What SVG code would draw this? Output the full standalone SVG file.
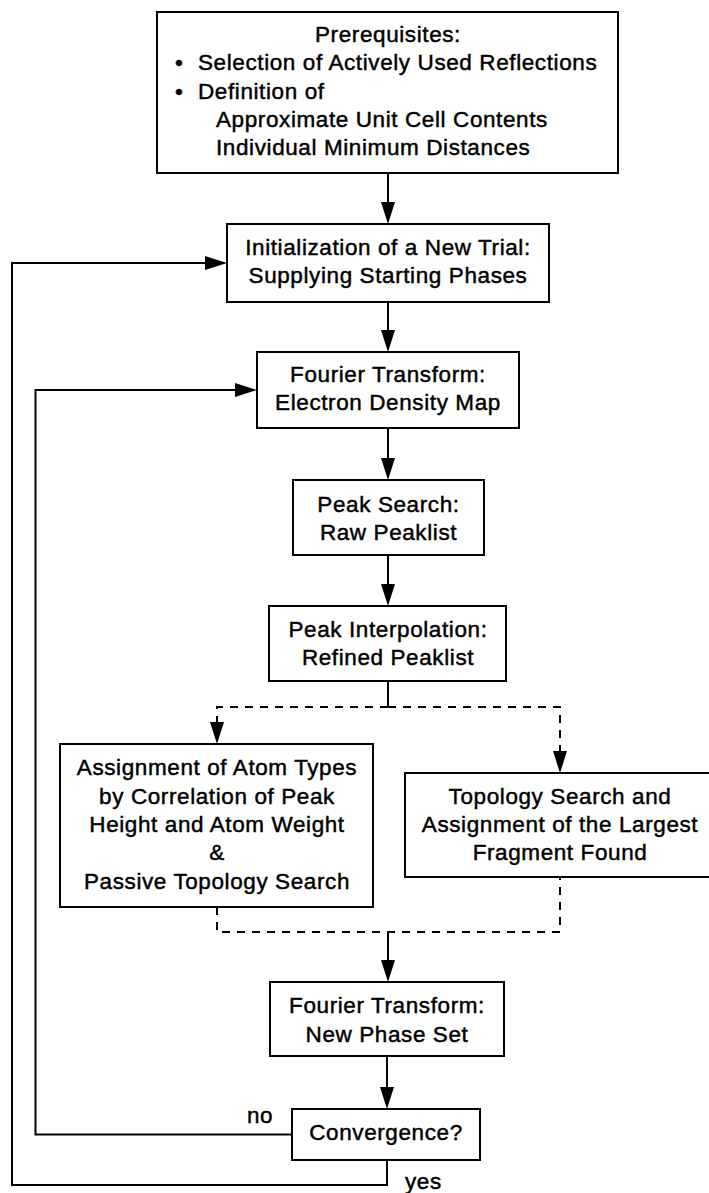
<svg xmlns="http://www.w3.org/2000/svg" width="709" height="1193" viewBox="0 0 709 1193">
<style>
  .box { fill: #fff; stroke: #000; stroke-width: 2; }
  .t { font-family: "Liberation Sans", Arial, Helvetica, sans-serif; font-size: 22.5px; letter-spacing: 0.6px; fill: #000; stroke: #000; stroke-width: 0.45px; }
  .c { text-anchor: middle; }
  .ln { fill: none; stroke: #000; stroke-width: 2; }
  .dash { stroke-dasharray: 8 7; }
</style>
<defs>
  <marker id="ah" markerUnits="userSpaceOnUse" markerWidth="22" markerHeight="14" viewBox="0 0 22 14" refX="19" refY="7" orient="auto">
    <path d="M0,0 L22,7 L0,14 z" fill="#000"/>
  </marker>
</defs>
<rect width="709" height="1193" fill="#fff"/>

<g id="connectors">
  <line class="ln" x1="388" y1="173" x2="388" y2="221" marker-end="url(#ah)"/>
  <line class="ln" x1="388" y1="302" x2="388" y2="349" marker-end="url(#ah)"/>
  <line class="ln" x1="388" y1="428" x2="388" y2="477" marker-end="url(#ah)"/>
  <line class="ln" x1="388" y1="555" x2="388" y2="603" marker-end="url(#ah)"/>
  <line class="ln" x1="388" y1="681" x2="388" y2="707"/>
  <path class="ln dash" d="M388,707 H217 V741" marker-end="url(#ah)"/>
  <path class="ln dash" d="M388,707 H560 V770" marker-end="url(#ah)"/>
  <path class="ln dash" d="M217,907 V932 H560 V877"/>
  <line class="ln" x1="388" y1="932" x2="388" y2="979" marker-end="url(#ah)"/>
  <line class="ln" x1="387" y1="1056" x2="387" y2="1106" marker-end="url(#ah)"/>
  <path class="ln" d="M292,1134.5 H35.5 V390 H254" marker-end="url(#ah)"/>
  <path class="ln" d="M387,1160 V1185 H12 V263 H224" marker-end="url(#ah)"/>
  <text class="t" x="247" y="1123">no</text>
  <text class="t" x="405" y="1189">yes</text>
</g>

<g id="prerequisites">
  <rect class="box" x="157" y="12" width="461" height="161"/>
  <text class="t c" x="388" y="41.5">Prerequisites:</text>
  <text class="t" x="175" y="70">•</text>
  <text class="t" x="198" y="70">Selection of Actively Used Reflections</text>
  <text class="t" x="175" y="98.5">•</text>
  <text class="t" x="198" y="98.5">Definition of</text>
  <text class="t" x="216" y="127">Approximate Unit Cell Contents</text>
  <text class="t" x="216" y="155">Individual Minimum Distances</text>
</g>

<g id="initialization">
  <rect class="box" x="227" y="224" width="322" height="78"/>
  <text class="t c" x="388" y="255">Initialization of a New Trial:</text>
  <text class="t c" x="388" y="283">Supplying Starting Phases</text>
</g>

<g id="fourier-density">
  <rect class="box" x="257" y="352" width="262" height="76"/>
  <text class="t c" x="388" y="382">Fourier Transform:</text>
  <text class="t c" x="388" y="410">Electron Density Map</text>
</g>

<g id="peak-search">
  <rect class="box" x="293" y="480" width="191" height="75"/>
  <text class="t c" x="388.5" y="512">Peak Search:</text>
  <text class="t c" x="388.5" y="540">Raw Peaklist</text>
</g>

<g id="peak-interpolation">
  <rect class="box" x="269" y="606" width="237" height="75"/>
  <text class="t c" x="388" y="637">Peak Interpolation:</text>
  <text class="t c" x="388" y="664.5">Refined Peaklist</text>
</g>

<g id="atom-types">
  <rect class="box" x="60" y="744" width="313" height="163"/>
  <text class="t c" x="217" y="775">Assignment of Atom Types</text>
  <text class="t c" x="217" y="803.5">by Correlation of Peak</text>
  <text class="t c" x="217" y="831.5">Height and Atom Weight</text>
  <text class="t c" x="217" y="860">&amp;</text>
  <text class="t c" x="217" y="888.5">Passive Topology Search</text>
</g>

<g id="topology-search">
  <rect class="box" x="405" y="773" width="307" height="104"/>
  <text class="t c" x="560" y="803.5">Topology Search and</text>
  <text class="t c" x="560" y="831.5">Assignment of the Largest</text>
  <text class="t c" x="560" y="860">Fragment Found</text>
</g>

<g id="fourier-phases">
  <rect class="box" x="270" y="982" width="234" height="74"/>
  <text class="t c" x="387" y="1013">Fourier Transform:</text>
  <text class="t c" x="387" y="1041.5">New Phase Set</text>
</g>

<g id="convergence">
  <rect class="box" x="292" y="1109" width="188" height="51"/>
  <text class="t c" x="386" y="1140">Convergence?</text>
</g>
</svg>
